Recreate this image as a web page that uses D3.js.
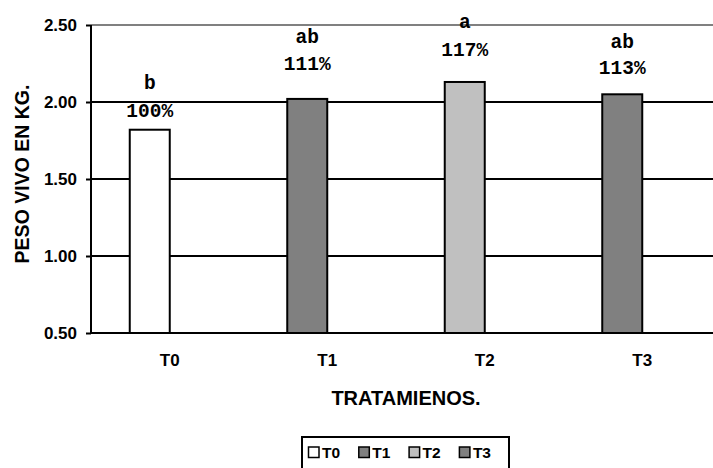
<!DOCTYPE html>
<html>
<head>
<meta charset="utf-8">
<script src="https://cdn.jsdelivr.net/npm/d3@7"></script>
<style>
  html, body { margin: 0; padding: 0; background: #fff; }
  svg { display: block; }
</style>
</head>
<body>
<svg id="chart" width="713" height="468"></svg>
<script>
// Treatments and live weight (kg)
const categories = ["T0", "T1", "T2", "T3"];
const pesoVivo = [1.82, 2.02, 2.13, 2.05];
const letras = ["b", "ab", "a", "ab"];
const porcentajes = ["100%", "111%", "117%", "113%"];
const yTicks = [0.5, 1.0, 1.5, 2.0, 2.5];
const barColors = ["#ffffff", "#808080", "#c0c0c0", "#808080"];

const svg = d3.select("#chart");
const W = 713, H = 468;
const plot = { left: 91, right: 721, top: 25, bottom: 333 };
const sans = "'Liberation Sans', Arial, sans-serif";

const x = d3.scaleBand().domain(categories).range([plot.left, plot.right]);
const y = d3.scaleLinear().domain([0.5, 2.5]).range([plot.bottom, plot.top]);

// horizontal grid lines (the top one is grey)
svg.append("g").selectAll("line")
  .data(yTicks.slice(1))
  .join("line")
  .attr("x1", plot.left).attr("x2", W)
  .attr("y1", d => y(d)).attr("y2", d => y(d))
  .attr("stroke", d => d === 2.5 ? "#808080" : "#000")
  .attr("stroke-width", 2);

// y axis
const yAxis = d3.axisLeft(y).tickValues(yTicks).tickFormat(d3.format(".2f")).tickSize(5).tickPadding(9);
const gy = svg.append("g").attr("transform", `translate(${plot.left},0)`).call(yAxis);
gy.select(".domain").attr("stroke", "#000").attr("stroke-width", 2).attr("d", `M0,${plot.bottom}V${plot.top}`);
gy.selectAll(".tick line").attr("stroke", "#000").attr("stroke-width", 2);
gy.selectAll(".tick text")
  .attr("font-family", sans)
  .attr("font-weight", "bold").attr("font-size", 17).attr("fill", "#000");

// x axis
const xAxis = d3.axisBottom(x).tickSize(0).tickPadding(21);
const gx = svg.append("g").attr("transform", `translate(0,${plot.bottom})`).call(xAxis);
gx.select(".domain").remove();
gx.selectAll(".tick text")
  .attr("font-family", sans)
  .attr("font-weight", "bold").attr("font-size", 17).attr("fill", "#000");
svg.append("line")
  .attr("x1", plot.left).attr("x2", W)
  .attr("y1", plot.bottom).attr("y2", plot.bottom)
  .attr("stroke", "#000").attr("stroke-width", 2);

// bars, shifted slightly left of each category centre
const barW = 40, barShift = -20;
const barX = c => x(c) + x.bandwidth() / 2 + barShift - barW / 2;
svg.append("g").selectAll("rect")
  .data(categories)
  .join("rect")
  .attr("x", c => barX(c))
  .attr("width", barW)
  .attr("y", (c, i) => y(pesoVivo[i]))
  .attr("height", (c, i) => y(0.5) - y(pesoVivo[i]))
  .attr("fill", (c, i) => barColors[i])
  .attr("stroke", "#000").attr("stroke-width", 2);

// significance letters and relative percentages above each bar
const pctGap = [13, 29, 26, 20];
const letterGap = [41, 56, 54, 46];
const labelFont = "'Liberation Mono', 'Courier New', monospace";
const lbl = svg.append("g")
  .attr("font-family", labelFont).attr("font-weight", "bold")
  .attr("font-size", 19.5).attr("text-anchor", "middle").attr("fill", "#000");
categories.forEach((c, i) => {
  const cx = barX(c) + barW / 2;
  lbl.append("text").attr("x", cx).attr("y", y(pesoVivo[i]) - pctGap[i]).text(porcentajes[i]);
  lbl.append("text").attr("x", cx).attr("y", y(pesoVivo[i]) - letterGap[i]).text(letras[i]);
});

// axis titles
svg.append("text")
  .attr("transform", `translate(29,174) rotate(-90)`)
  .attr("text-anchor", "middle")
  .attr("font-family", sans)
  .attr("font-weight", "bold").attr("font-size", 19.5)
  .text("PESO VIVO EN KG.");
svg.append("text")
  .attr("x", 406).attr("y", 405)
  .attr("text-anchor", "middle")
  .attr("font-family", sans)
  .attr("font-weight", "bold").attr("font-size", 20)
  .text("TRATAMIENOS.");

// legend
const leg = svg.append("g").attr("transform", "translate(302,437)");
leg.append("rect").attr("x", 0).attr("y", 0).attr("width", 207).attr("height", 40)
  .attr("fill", "#fff").attr("stroke", "#000").attr("stroke-width", 2);
const items = leg.selectAll("g.item").data(categories).join("g")
  .attr("class", "item")
  .attr("transform", (d, i) => `translate(${6.5 + i * 50.3},10)`);
items.append("rect").attr("width", 10.5).attr("height", 10.5)
  .attr("fill", (d, i) => barColors[i]).attr("stroke", "#000").attr("stroke-width", 1.5);
items.append("text").attr("x", 13.5).attr("y", 11)
  .attr("font-family", sans)
  .attr("font-weight", "bold").attr("font-size", 15.5)
  .text(d => d);
</script>
</body>
</html>
